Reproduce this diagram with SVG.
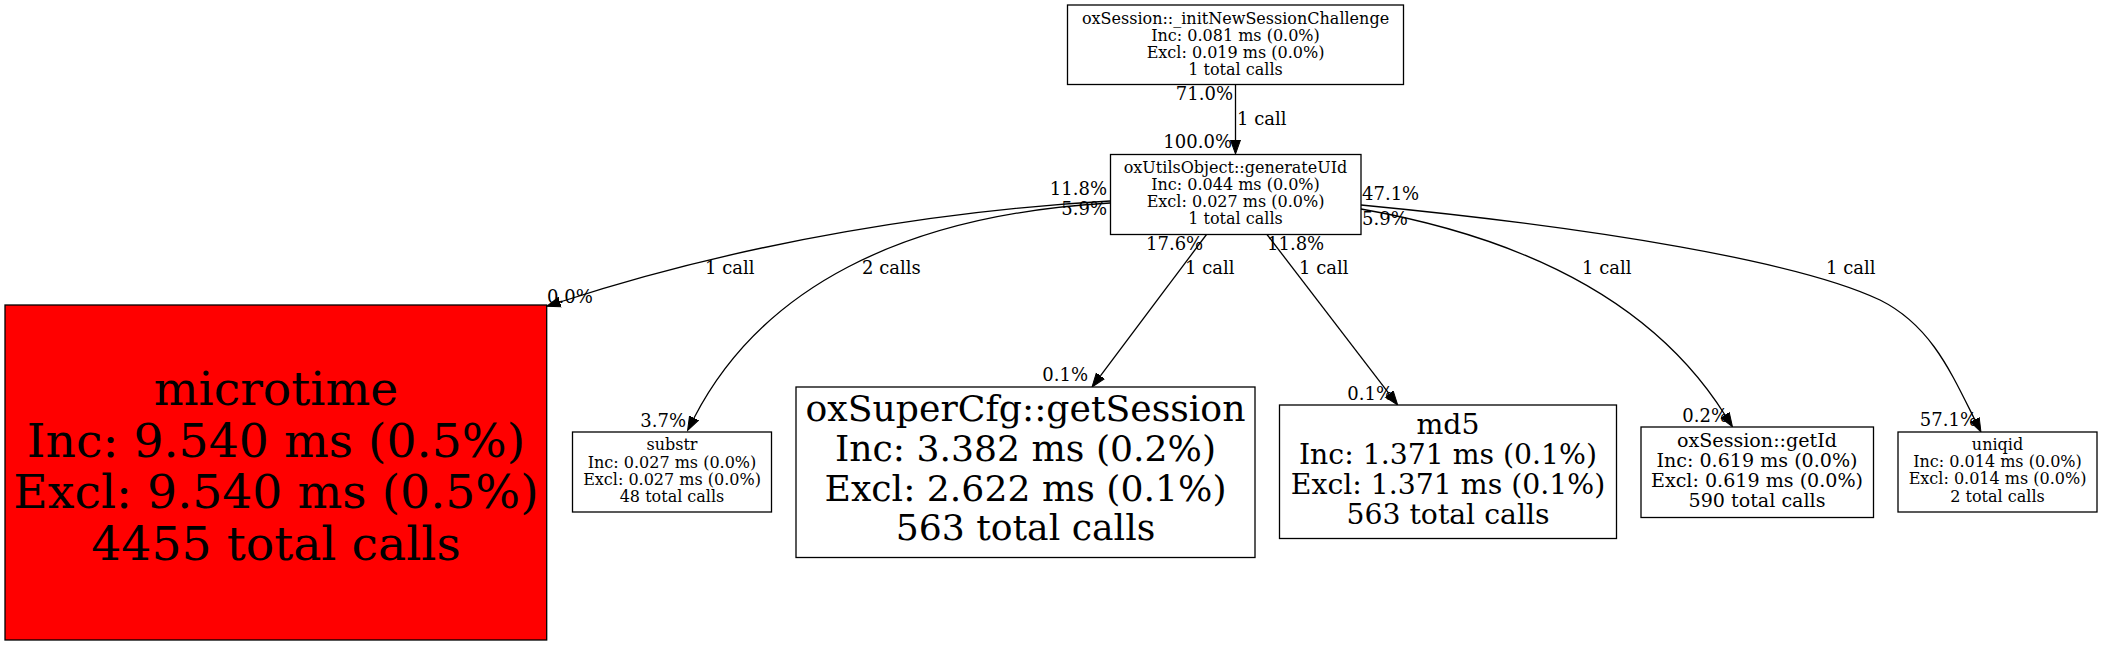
<svg xmlns="http://www.w3.org/2000/svg" width="2103" height="645" viewBox="0 0 2103 645">
<style>
text{font-family:"DejaVu Serif","Liberation Serif",serif;fill:#000}
.n{fill:#fff;stroke:#000;stroke-width:1.3}
.hot{fill:#ff0000;stroke:#000;stroke-width:1.3}
.c{text-anchor:middle}
.s{font-size:16px}
.g{font-size:19.1px}
.m{font-size:28.3px}
.l{font-size:36.2px}
.x{font-size:47.3px}
.e{fill:none;stroke:#000;stroke-width:1.3;marker-end:url(#ah)}
.lb{font-size:18px}
.st{text-anchor:start}
.en{text-anchor:end}
</style>
<defs>
<marker id="ah" markerUnits="userSpaceOnUse" markerWidth="16" markerHeight="12" viewBox="0 -6 16 12" refX="0" refY="0" orient="auto">
<path d="M0,-5 L14,0 L0,5 z" fill="#000" stroke="#000" stroke-width="1"/>
</marker>
</defs>
<rect width="2103" height="645" fill="#fff"/>
<g id="connectors">
<g id="e-top-gen">
<path class="e" d="M1235.5,84.5 L1235.5,140"/>
<text class="lb en" x="1233" y="100">71.0%</text>
<text class="lb st" x="1237" y="125">1 call</text>
<text class="lb en" x="1232" y="148">100.0%</text>
</g>
<g id="e-gen-microtime">
<path class="e" d="M1110,201 C950,210 750,240 560,302"/>
<text class="lb en" x="1107" y="195">11.8%</text>
<text class="lb st" x="705" y="274">1 call</text>
<text class="lb st" x="547" y="303">0.0%</text>
</g>
<g id="e-gen-substr">
<path class="e" d="M1110,203 C900,215 760,290 694,418"/>
<text class="lb en" x="1107" y="215">5.9%</text>
<text class="lb st" x="862" y="274">2 calls</text>
<text class="lb en" x="686" y="427">3.7%</text>
</g>
<g id="e-gen-getSession">
<path class="e" d="M1206.5,234.5 L1100.4,375.8"/>
<text class="lb st" x="1146" y="250">17.6%</text>
<text class="lb st" x="1185" y="274">1 call</text>
<text class="lb en" x="1088" y="381">0.1%</text>
</g>
<g id="e-gen-md5">
<path class="e" d="M1267,234.5 L1389.2,393.9"/>
<text class="lb st" x="1267" y="250">11.8%</text>
<text class="lb st" x="1299" y="274">1 call</text>
<text class="lb en" x="1393" y="400">0.1%</text>
</g>
<g id="e-gen-getId">
<path class="e" d="M1361,209 C1480,230 1640,280 1725,415"/>
<text class="lb st" x="1362" y="225">5.9%</text>
<text class="lb st" x="1582" y="274">1 call</text>
<text class="lb en" x="1728" y="422">0.2%</text>
</g>
<g id="e-gen-uniqid">
<path class="e" d="M1361,205 C1600,228 1800,262 1880,300 C1930,325 1950,370 1974.7,419.5"/>
<text class="lb st" x="1362" y="200">47.1%</text>
<text class="lb st" x="1826" y="274">1 call</text>
<text class="lb en" x="1977" y="426">57.1%</text>
</g>
</g>
<g id="n-initNewSessionChallenge">
<rect class="n" x="1067.5" y="5" width="336" height="79.5"/>
<text class="c s" x="1235.5" y="24">oxSession::_initNewSessionChallenge</text>
<text class="c s" x="1235.5" y="41">Inc: 0.081 ms (0.0%)</text>
<text class="c s" x="1235.5" y="58">Excl: 0.019 ms (0.0%)</text>
<text class="c s" x="1235.5" y="74.5">1 total calls</text>
</g>
<g id="n-generateUId">
<rect class="n" x="1110.5" y="154.5" width="250.5" height="80"/>
<text class="c s" x="1235.5" y="173">oxUtilsObject::generateUId</text>
<text class="c s" x="1235.5" y="190">Inc: 0.044 ms (0.0%)</text>
<text class="c s" x="1235.5" y="207">Excl: 0.027 ms (0.0%)</text>
<text class="c s" x="1235.5" y="224">1 total calls</text>
</g>
<g id="n-microtime">
<rect class="hot" x="5" y="305" width="541.7" height="335"/>
<text class="c x" x="276" y="405">microtime</text>
<text class="c x" x="276" y="457">Inc: 9.540 ms (0.5%)</text>
<text class="c x" x="276" y="508">Excl: 9.540 ms (0.5%)</text>
<text class="c x" x="276" y="560">4455 total calls</text>
</g>
<g id="n-substr">
<rect class="n" x="572.5" y="432" width="199" height="80"/>
<text class="c s" x="672" y="450">substr</text>
<text class="c s" x="672" y="467.5">Inc: 0.027 ms (0.0%)</text>
<text class="c s" x="672" y="484.5">Excl: 0.027 ms (0.0%)</text>
<text class="c s" x="672" y="501.5">48 total calls</text>
</g>
<g id="n-getSession">
<rect class="n" x="796" y="387" width="459" height="170.5"/>
<text class="c l" x="1025.5" y="421">oxSuperCfg::getSession</text>
<text class="c l" x="1025.5" y="461">Inc: 3.382 ms (0.2%)</text>
<text class="c l" x="1025.5" y="500.5">Excl: 2.622 ms (0.1%)</text>
<text class="c l" x="1025.5" y="540">563 total calls</text>
</g>
<g id="n-md5">
<rect class="n" x="1279.5" y="405" width="337" height="133.5"/>
<text class="c m" x="1448" y="433.5">md5</text>
<text class="c m" x="1448" y="463.5">Inc: 1.371 ms (0.1%)</text>
<text class="c m" x="1448" y="493.5">Excl: 1.371 ms (0.1%)</text>
<text class="c m" x="1448" y="523.5">563 total calls</text>
</g>
<g id="n-getId">
<rect class="n" x="1641" y="427" width="232.5" height="90.5"/>
<text class="c g" x="1757" y="446.5">oxSession::getId</text>
<text class="c g" x="1757" y="466.5">Inc: 0.619 ms (0.0%)</text>
<text class="c g" x="1757" y="486.5">Excl: 0.619 ms (0.0%)</text>
<text class="c g" x="1757" y="506.5">590 total calls</text>
</g>
<g id="n-uniqid">
<rect class="n" x="1898" y="432" width="199" height="80"/>
<text class="c s" x="1997.5" y="449.5">uniqid</text>
<text class="c s" x="1997.5" y="467">Inc: 0.014 ms (0.0%)</text>
<text class="c s" x="1997.5" y="484">Excl: 0.014 ms (0.0%)</text>
<text class="c s" x="1997.5" y="501.5">2 total calls</text>
</g>
</svg>
